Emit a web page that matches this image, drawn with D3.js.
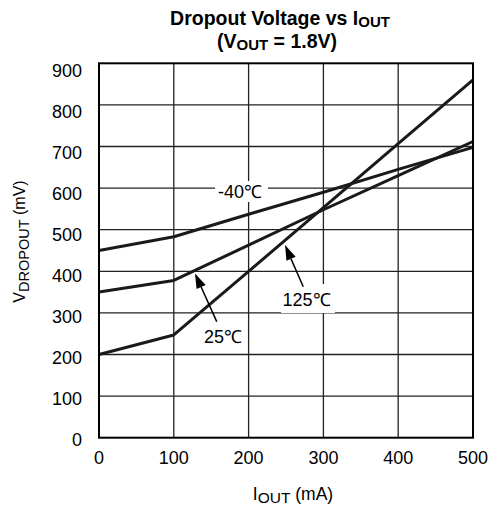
<!DOCTYPE html>
<html>
<head>
<meta charset="utf-8">
<script src="https://cdn.jsdelivr.net/npm/d3@7"></script>
<style>
  body { margin: 0; background: #fff; }
  text { font-family: Arial, "Liberation Sans", sans-serif; fill: #000; }
</style>
</head>
<body>
<svg width="488" height="506"></svg>
<script>
// data
var currents = [0, 100, 200, 300, 400, 500];          // mA
var vMinus40 = [450, 483, 537, 590, 645, 698];        // mV at -40C
var v25 = [350, 378, 463, 548, 630, 712];             // mV at 25C
var v125 = [200, 247, 400, 553, 707, 860];            // mV at 125C
var xTicks = [0, 100, 200, 300, 400, 500];
var yTicks = [0, 100, 200, 300, 400, 500, 600, 700, 800, 900];

var svg = d3.select("svg");

var x = d3.scaleLinear().domain([0, 500]).range([99, 473]);
var y = d3.scaleLinear().domain([0, 900]).range([437.7, 63.3]);
// the y tick labels sit on a slightly tighter spacing than the grid
var yLab = d3.scaleLinear().domain([0, 900]).range([439.7, 71]);

// grid
var grid = svg.append("g").attr("stroke", "#222").attr("stroke-width", 1.3);
grid.selectAll("line.v")
    .data(xTicks.slice(1, -1))
    .enter().append("line")
    .attr("x1", d => x(d)).attr("x2", d => x(d))
    .attr("y1", y(0)).attr("y2", y(900));
grid.selectAll("line.h")
    .data(yTicks.slice(1, -1))
    .enter().append("line")
    .attr("y1", d => y(d)).attr("y2", d => y(d))
    .attr("x1", x(0)).attr("x2", x(500));

// curves
var line = d3.line()
    .x((d, i) => x(currents[i]))
    .y(d => y(d));

var curves = svg.append("g")
    .attr("fill", "none")
    .attr("stroke", "#1a1a1a")
    .attr("stroke-width", 3)
    .attr("stroke-linejoin", "round");

[vMinus40, v25, v125].forEach(function (s) {
    curves.append("path").attr("d", line(s));
});

// frame
svg.append("rect")
    .attr("x", x(0)).attr("y", y(900))
    .attr("width", x(500) - x(0))
    .attr("height", y(0) - y(900))
    .attr("fill", "none")
    .attr("stroke", "#000")
    .attr("stroke-width", 2);

// annotations (data coordinates)
var notes = [
    { text: "-40\u2103", lx: 188.5, ly: 591, box: [215, 181, 53, 21] },
    { text: "25\u2103", lx: 165.8, ly: 242, tip: [128.3, 395], tail: [157.4, 279] },
    { text: "125\u2103", lx: 277.5, ly: 331, box: [281, 284, 54, 29], tip: [248.7, 463], tail: [273.1, 363] }
];

notes.forEach(function (n) {
    if (n.box) {
        svg.append("rect")
            .attr("x", n.box[0]).attr("y", n.box[1])
            .attr("width", n.box[2]).attr("height", n.box[3])
            .attr("fill", "#fff");
    }
    if (n.tip) {
        var tx = x(n.tip[0]), ty = y(n.tip[1]);
        var sx = x(n.tail[0]), sy = y(n.tail[1]);
        var ang = Math.atan2(sy - ty, sx - tx);
        var len = 15, half = 5;
        var bx = tx + len * Math.cos(ang), by = ty + len * Math.sin(ang);
        svg.append("line")
            .attr("x1", sx).attr("y1", sy)
            .attr("x2", bx).attr("y2", by)
            .attr("stroke", "#000").attr("stroke-width", 1.5);
        var px = -Math.sin(ang) * half, py = Math.cos(ang) * half;
        svg.append("path")
            .attr("d", "M" + tx + "," + ty + "L" + (bx + px) + "," + (by + py) + "L" + (bx - px) + "," + (by - py) + "Z")
            .attr("fill", "#000");
    }
    svg.append("text")
        .attr("x", x(n.lx)).attr("y", y(n.ly))
        .attr("text-anchor", "middle")
        .attr("dominant-baseline", "central")
        .attr("font-size", 18)
        .text(n.text);
});

// tick labels
svg.append("g").selectAll("text")
    .data(xTicks)
    .enter().append("text")
    .attr("x", d => x(d))
    .attr("y", y(0) + 20.5)
    .attr("text-anchor", "middle")
    .attr("dominant-baseline", "central")
    .attr("font-size", 18)
    .text(d => d);

svg.append("g").selectAll("text")
    .data(yTicks)
    .enter().append("text")
    .attr("x", 82)
    .attr("y", d => yLab(d))
    .attr("text-anchor", "end")
    .attr("dominant-baseline", "central")
    .attr("font-size", 18)
    .text(d => d);

// title
var title = svg.append("g").attr("font-weight", "bold").attr("text-anchor", "middle");
var t1 = title.append("text").attr("x", 280).attr("y", 24.5).attr("font-size", 19.5);
t1.append("tspan").text("Dropout Voltage vs I");
t1.append("tspan").attr("font-size", 15).attr("dy", 2).text("OUT");
var t2 = title.append("text").attr("x", 277).attr("y", 47.5).attr("font-size", 19.5);
t2.append("tspan").text("(V");
t2.append("tspan").attr("font-size", 15).attr("dy", 2).text("OUT");
t2.append("tspan").attr("dy", -2).text(" = 1.8V)");

// axis titles
var xt = svg.append("text")
    .attr("x", 293).attr("y", 500)
    .attr("text-anchor", "middle")
    .attr("font-size", 17.5);
xt.append("tspan").text("I");
xt.append("tspan").attr("font-size", 15.5).attr("dy", 3).text("OUT");
xt.append("tspan").attr("dy", -3).text(" (mA)");

var yt = svg.append("text")
    .attr("transform", "translate(25,241.5) rotate(-90)")
    .attr("text-anchor", "middle")
    .attr("font-size", 16);
yt.append("tspan").text("V");
yt.append("tspan").attr("font-size", 14.5).attr("dy", 4).text("DROPOUT");
yt.append("tspan").attr("dy", -4).text(" (mV)");
</script>
</body>
</html>
